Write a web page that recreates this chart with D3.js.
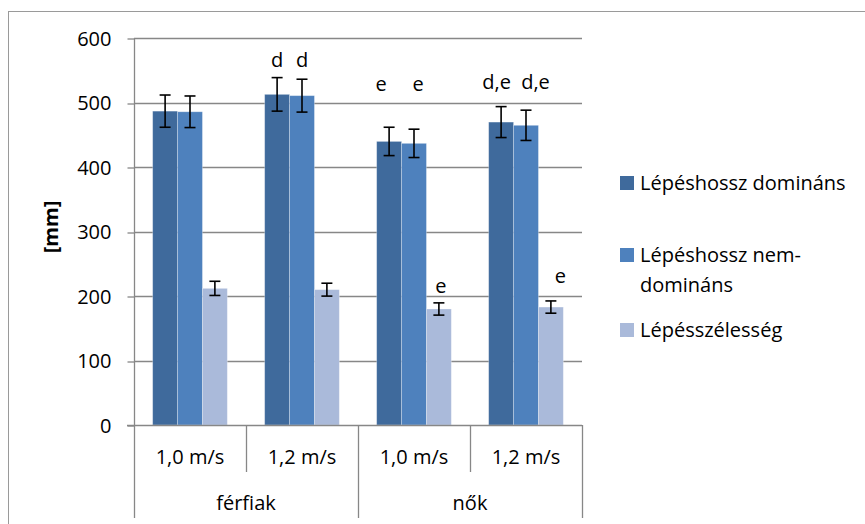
<!DOCTYPE html>
<html><head><meta charset="utf-8">
<script src="https://cdn.jsdelivr.net/npm/d3@7"></script>
<style>
html,body{margin:0;padding:0;background:#fff;}
svg{display:block;}
text{font-family:"Open Sans",sans-serif;fill:#000;}
</style></head>
<body>
<svg id="chart" width="865" height="524"></svg>
<script>
// ---- data ----
const speeds = ["1,0 m/s", "1,2 m/s", "1,0 m/s", "1,2 m/s"];
const groups = ["férfiak", "nők"];
const legendLabels = [["Lépéshossz domináns"], ["Lépéshossz nem-", "domináns"], ["Lépésszélesség"]];
const dominant = [487, 513, 440, 470];
const dominantErr = [25, 26, 22, 24];
const nondominant = [486, 511, 437, 465];
const nondominantErr = [24.5, 25.5, 22, 23.5];
const stepWidth = [212, 210, 180, 183];
const stepWidthErr = [11, 10, 9.5, 9.5];
const yTicks = [0, 100, 200, 300, 400, 500, 600];
// significance letters: category, series, text, value (data units) where the label sits
const sigCat = [1, 1, 2, 2, 3, 3, 2, 3];
const sigSer = [0, 1, 0, 1, 0, 1, 2, 2];
const sigText = ["d", "d", "e", "e", "d,e", "d,e", "e", "e"];
const sigVal = [556, 556, 519, 519, 521, 521, 205, 220];

// ---- styles / layout ----
const colors = ["#3F6A9C", "#4E81BD", "#AABADA"];
const sigDx = [0, 0, -8, 4, -4.5, 9.5, 2, 9.5];
const values = [dominant, nondominant, stepWidth];
const errs = [dominantErr, nondominantErr, stepWidthErr];
const plot = {left: 134, right: 582, top: 38.3, bottom: 425};
const fs = 20;

const svg = d3.select("#chart");

// outer border (cropped on right & bottom)
svg.append("rect").attr("x", 8.5).attr("y", 11.5).attr("width", 900).attr("height", 600)
  .attr("fill", "#fff").attr("stroke", "#9a9a9a").attr("stroke-width", 1);

const x0 = d3.scaleBand().domain(d3.range(speeds.length)).range([plot.left, plot.right]).padding(0);
const bw = x0.bandwidth();
const w = bw / 4.5;
const x1 = d3.scaleBand().domain(d3.range(3)).range([0.75 * w, 3.75 * w]).padding(0);
const y = d3.scaleLinear().domain([0, 600]).range([plot.bottom, plot.top]);

const gridColor = "#878787";
// gridlines
svg.append("g").selectAll("line").data(yTicks.filter(d => d > 0)).join("line")
  .attr("x1", plot.left).attr("x2", plot.right)
  .attr("y1", d => Math.round(y(d)) + 0.5).attr("y2", d => Math.round(y(d)) + 0.5)
  .attr("stroke", gridColor).attr("stroke-width", 1.3);

// y axis
const yAxis = d3.axisLeft(y).tickValues(yTicks).tickSize(7).tickPadding(16).tickFormat(d3.format("d"));
const ya = svg.append("g").attr("transform", `translate(${plot.left + 0.5},0)`).call(yAxis);
ya.select(".domain").remove();
ya.selectAll(".tick line").attr("stroke", gridColor).attr("stroke-width", 1.3)
  .attr("transform", d => `translate(0,${Math.round(y(d)) + 0.5 - y(d)})`);
ya.selectAll(".tick text").attr("font-size", fs).attr("font-family", "Open Sans").attr("fill", "#000").attr("dy", "0.35em").attr("y", 0);

// y axis line, extending through category area
svg.append("line").attr("x1", plot.left + 0.5).attr("x2", plot.left + 0.5)
  .attr("y1", plot.top).attr("y2", 518).attr("stroke", gridColor).attr("stroke-width", 1.3);

// bars
const barG = svg.append("g");
values.forEach((vals, s) => {
  barG.append("g").selectAll("rect").data(vals).join("rect")
    .attr("x", (d, i) => x0(i) + x1(s))
    .attr("y", d => y(d))
    .attr("width", x1.bandwidth())
    .attr("height", d => y(0) - y(d))
    .attr("fill", colors[s])
    .attr("stroke", "rgba(255,255,255,0.35)").attr("stroke-width", 0.8);
});

// x axis line
svg.append("line").attr("x1", plot.left - 7).attr("x2", plot.right)
  .attr("y1", Math.round(plot.bottom) + 0.5).attr("y2", Math.round(plot.bottom) + 0.5)
  .attr("stroke", gridColor).attr("stroke-width", 1.3);

// category separators
const sepG = svg.append("g");
d3.range(1, speeds.length + 1).forEach(i => {
  const xx = plot.left + i * bw;
  const long = (i % 2 === 0);
  sepG.append("line").attr("x1", Math.round(xx) + 0.5).attr("x2", Math.round(xx) + 0.5)
    .attr("y1", plot.bottom).attr("y2", long ? 518 : 472)
    .attr("stroke", gridColor).attr("stroke-width", 1.3);
});

// category labels
svg.append("g").selectAll("text").data(speeds).join("text")
  .attr("x", (d, i) => x0(i) + bw / 2).attr("y", 457).attr("dy", "0.35em")
  .attr("text-anchor", "middle").attr("font-size", fs).text(d => d);
svg.append("g").selectAll("text").data(groups).join("text")
  .attr("x", (d, g) => plot.left + bw * (2 * g + 1)).attr("y", 503).attr("dy", "0.35em")
  .attr("text-anchor", "middle").attr("font-size", fs).text(d => d);

// error bars
const errG = svg.append("g");
values.forEach((vals, s) => {
  vals.forEach((v, i) => {
    const cx = x0(i) + x1(s) + x1.bandwidth() / 2;
    const e = errs[s][i];
    const g = errG.append("g").attr("stroke", "#000").attr("stroke-width", 1.6);
    g.append("line").attr("x1", cx).attr("x2", cx).attr("y1", y(v + e)).attr("y2", y(v - e));
    g.append("line").attr("x1", cx - 5.5).attr("x2", cx + 5.5).attr("y1", y(v + e)).attr("y2", y(v + e));
    g.append("line").attr("x1", cx - 5.5).attr("x2", cx + 5.5).attr("y1", y(v - e)).attr("y2", y(v - e));
  });
});

// significance letters
svg.append("g").selectAll("text").data(sigText).join("text")
  .attr("x", (d, k) => x0(sigCat[k]) + x1(sigSer[k]) + x1.bandwidth() / 2 + sigDx[k])
  .attr("y", (d, k) => y(sigVal[k]))
  .attr("text-anchor", "middle").attr("font-size", fs).text(d => d);

// y title
svg.append("text").attr("transform", "translate(51,227) rotate(-90)")
  .attr("text-anchor", "middle").attr("dy", "0.35em")
  .attr("font-size", fs).attr("font-weight", "bold").text("[mm]");

// legend
const legY = [183, 255, 330];
const leg = svg.append("g");
legendLabels.forEach((lines, s) => {
  leg.append("rect").attr("x", 620).attr("y", legY[s] - 7).attr("width", 14).attr("height", 14)
    .attr("fill", colors[s]);
  lines.forEach((t, j) => {
    leg.append("text").attr("x", 640).attr("y", legY[s] + j * 30).attr("dy", "0.35em")
      .attr("font-size", fs).text(t);
  });
});
</script>
</body></html>
